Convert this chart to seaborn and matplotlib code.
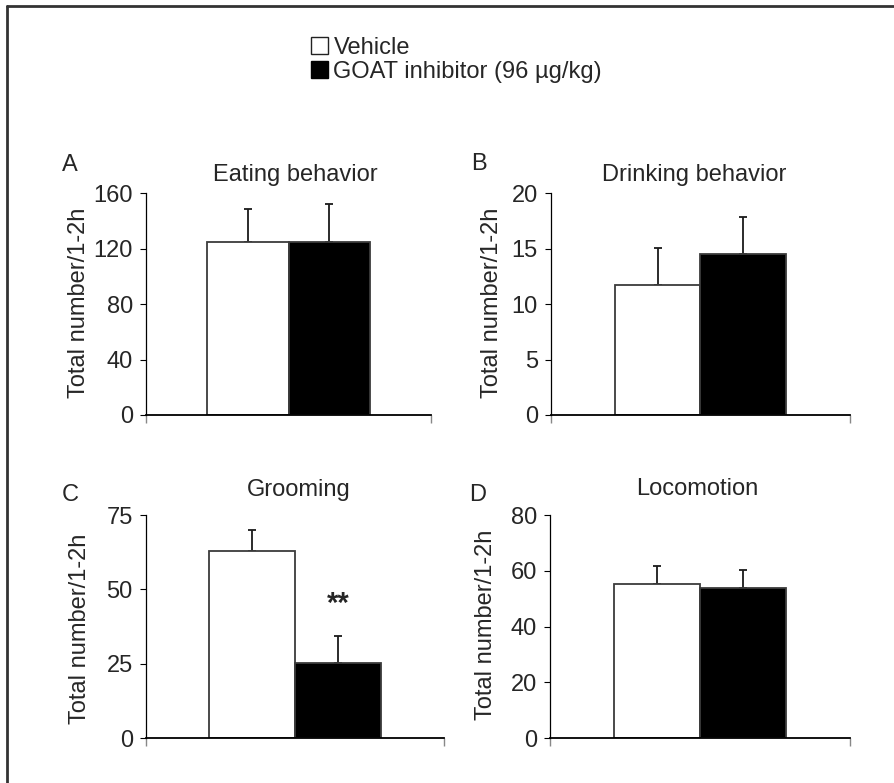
import numpy as np
import pandas as pd
import matplotlib
matplotlib.use("Agg")
import matplotlib.pyplot as plt
from matplotlib.patches import Patch
from matplotlib.lines import Line2D
import seaborn as sns

# ---- data (mean and SEM per treatment group) ----
groups = ["Vehicle", "GOAT inhibitor (96 µg/kg)"]
eating_mean = [125.0, 124.5]
eating_sem = [24.0, 27.5]
drinking_mean = [11.7, 14.5]
drinking_sem = [3.4, 3.4]
grooming_mean = [63.0, 25.2]
grooming_sem = [6.8, 9.3]
locomotion_mean = [55.2, 54.0]
locomotion_sem = [6.7, 6.4]

panel_letters = ["A", "B", "C", "D"]
panel_titles = ["Eating behavior", "Drinking behavior", "Grooming", "Locomotion"]
y_ticks = [[0, 40, 80, 120, 160], [0, 5, 10, 15, 20], [0, 25, 50, 75], [0, 20, 40, 60, 80]]
y_label = "Total number/1-2h"

sns.set_style("white")
plt.rcParams["font.family"] = ["Liberation Sans", "DejaVu Sans"]

W, H = 895, 783
fig = plt.figure(figsize=(W / 100, H / 100), dpi=100)
fig.patch.set_edgecolor("white")
fig.patch.set_linewidth(0)


def box(l, r, t, b):
    return [l / W, 1 - b / H, (r - l) / W, (b - t) / H]


axes_px = [(146, 431, 193.3, 415), (551, 850, 193.3, 415),
           (146, 444, 515, 738.3), (550, 850, 515, 738.3)]
letter_px = [(70, 171), (479, 170), (70, 501), (478, 501)]
title_px = [(295, 181), (694, 181), (299, 496), (697, 495)]
ylabel_xy = [(-0.197, 0.508), (-0.160, 0.508), (-0.185, 0.489), (-0.178, 0.507)]

means = [eating_mean, drinking_mean, grooming_mean, locomotion_mean]
sems = [eating_sem, drinking_sem, grooming_sem, locomotion_sem]
palette = {groups[0]: "white", groups[1]: "black"}

FS = 17
for i in range(4):
    ax = fig.add_axes(box(*axes_px[i]))
    df = pd.DataFrame({"panel": [panel_titles[i]] * 2, "group": groups,
                       "mean": means[i], "sem": sems[i]})
    sns.barplot(data=df, x="panel", y="mean", hue="group", hue_order=groups,
                palette=palette, edgecolor="#3c3c3c", linewidth=1.3,
                width=0.575, errorbar=None, legend=False, ax=ax)
    bars = [p for p in ax.patches][:2]
    xs = [p.get_x() + p.get_width() / 2 for p in bars]
    hs = [p.get_height() for p in bars]
    ax.errorbar(xs, hs, yerr=[[0, 0], sems[i]], fmt="none", ecolor="#1a1a1a",
                elinewidth=1.3, capsize=2.6, capthick=1.3, zorder=1)
    for p in bars:
        p.set_zorder(2)

    ax.set_xlim(-0.5, 0.5)
    ax.set_ylim(y_ticks[i][0], y_ticks[i][-1])
    ax.set_yticks(y_ticks[i])
    ax.set_xticks([-0.5, 0.5])
    ax.set_xticklabels([])
    ax.set_xlabel("")
    ax.set_ylabel(y_label, fontsize=FS)
    ax.yaxis.set_label_coords(*ylabel_xy[i])
    ax.tick_params(axis="y", direction="out", length=4.5, width=0.8,
                   color="black", labelsize=FS, pad=5, left=True)
    ax.tick_params(axis="x", direction="out", length=6, width=1,
                   color="#888888", bottom=True)
    for s in ["top", "right"]:
        ax.spines[s].set_visible(False)
    ax.spines["left"].set_color("black")
    ax.spines["left"].set_linewidth(0.9)
    ax.spines["bottom"].set_color("black")
    ax.spines["bottom"].set_linewidth(1.3)

    fig.text(letter_px[i][0] / W, 1 - letter_px[i][1] / H, panel_letters[i],
             fontsize=FS, ha="center", va="baseline")
    fig.text(title_px[i][0] / W, 1 - title_px[i][1] / H, panel_titles[i],
             fontsize=FS, ha="center", va="baseline")

    if i == 2:
        ax.text(xs[1], 42.5, "**", fontsize=21, fontweight="bold",
                ha="center", va="baseline")

# legend at the top
handles = [Patch(facecolor="white", edgecolor="#222222", linewidth=1.0),
           Patch(facecolor="black", edgecolor="black", linewidth=1.0)]
fig.legend(handles, groups, loc="upper left",
           bbox_to_anchor=(311 / W, 1 - 37 / H), frameon=False, fontsize=FS,
           handlelength=0.7, handleheight=0.7, handletextpad=0.25,
           labelspacing=0.08, borderpad=0, borderaxespad=0)

# outer frame (left and top edges)
fig.add_artist(Line2D([7 / W, 7 / W], [0, 1 - 6 / H], color="#333333", lw=2))
fig.add_artist(Line2D([7 / W, 1], [1 - 6 / H, 1 - 6 / H], color="#333333", lw=2))

fig.savefig("out.png", dpi=100)
